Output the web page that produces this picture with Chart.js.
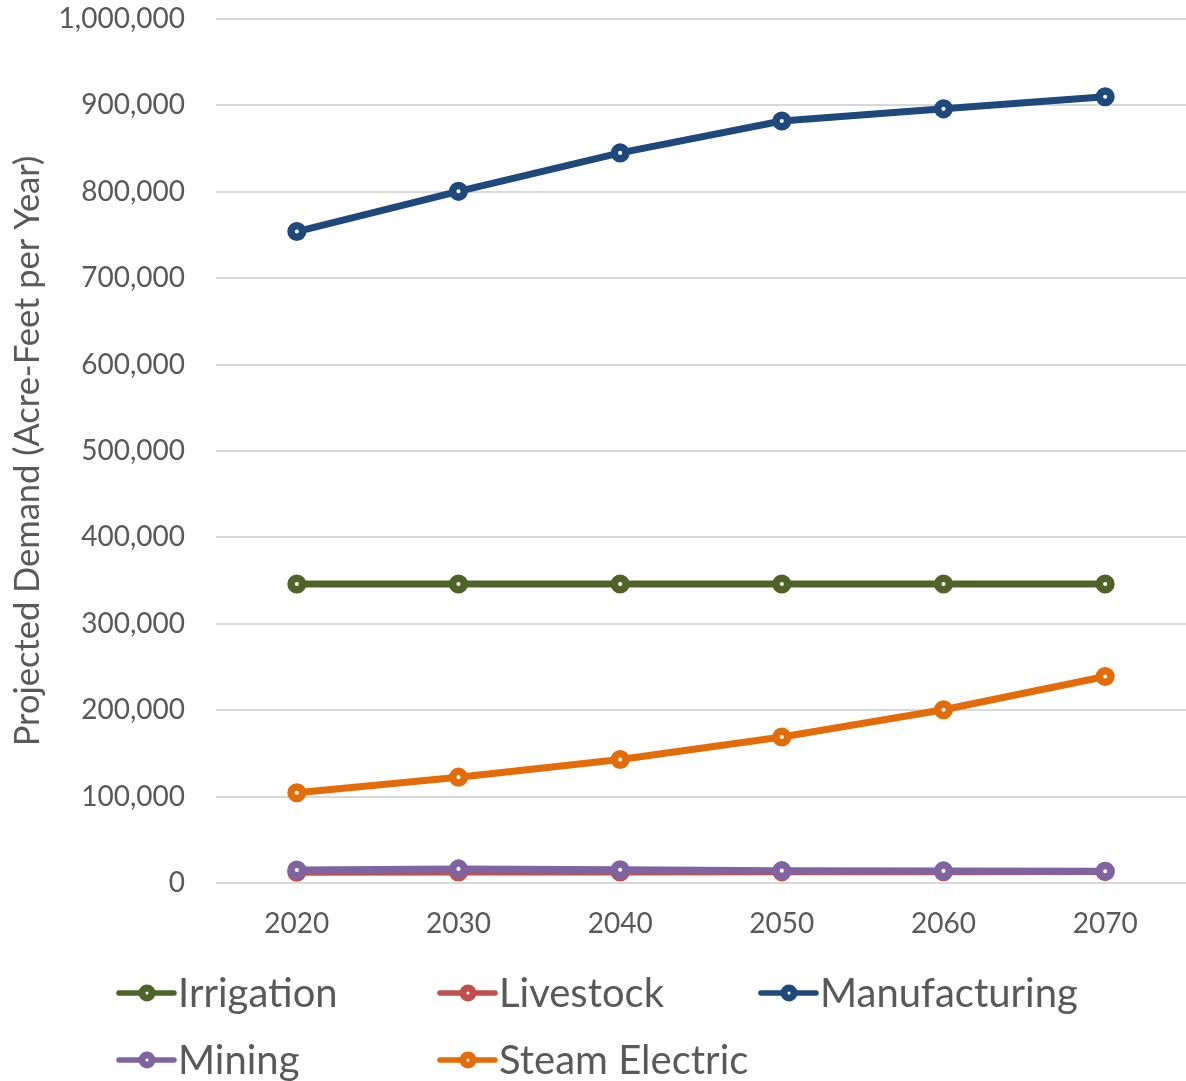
<!DOCTYPE html>
<html>
<head>
<meta charset="utf-8">
<script src="https://cdn.jsdelivr.net/npm/chart.js@4.4.1/dist/chart.umd.min.js"></script>
<style>
  html, body { margin: 0; padding: 0; background: #ffffff; overflow: hidden; }
  #wrap { width: 1186px; height: 1081px; position: relative; }
</style>
</head>
<body>
<div id="wrap"><canvas id="c" width="1186" height="1081"></canvas></div>
<script>
const years = ['2020', '2030', '2040', '2050', '2060', '2070'];
const seriesNames = ['Irrigation', 'Livestock', 'Manufacturing', 'Mining', 'Steam Electric'];
const irrigation = [346000, 346000, 346000, 346000, 346000, 346000];
const livestock = [12500, 12700, 12800, 12900, 13100, 13200];
const manufacturing = [754000, 800500, 845000, 882000, 896000, 910000];
const mining = [15000, 16300, 15400, 14300, 14000, 13600];
const steamElectric = [104500, 122500, 143000, 169000, 200500, 239000];
const seriesColors = ['#4F6228', '#C0504D', '#1F497D', '#8064A2', '#E36C09'];
const yAxisTitle = 'Projected Demand (Acre-Feet per Year)';

const FONT = 'Lato, "Open Sans", sans-serif';
const TEXT = '#595959';

const seriesValues = [irrigation, livestock, manufacturing, mining, steamElectric];

const datasets = seriesNames.map((name, i) => ({
  label: name,
  data: seriesValues[i],
  borderColor: seriesColors[i],
  backgroundColor: '#ffffff',
  pointBackgroundColor: '#ffffff',
  pointBorderColor: seriesColors[i],
  borderWidth: 7,
  pointRadius: 5.8,
  pointHoverRadius: 5.8,
  pointBorderWidth: 7.5,
  tension: 0,
  order: seriesNames.length - i
}));

const legendPlugin = {
  id: 'gridLegend',
  afterDraw(chart) {
    const ctx = chart.ctx;
    const area = chart.chartArea;
    const colW = 321;
    const x0 = area.left - 99;
    const row0 = area.bottom + 110;
    const rowH = 67;
    ctx.save();
    ctx.font = '40px ' + FONT;
    ctx.textBaseline = 'middle';
    ctx.textAlign = 'left';
    seriesNames.forEach((name, i) => {
      const col = i % 3, row = Math.floor(i / 3);
      const x = x0 + col * colW;
      const y = row0 + row * rowH;
      ctx.strokeStyle = seriesColors[i];
      ctx.lineWidth = 5.5;
      ctx.lineCap = 'round';
      ctx.beginPath();
      ctx.moveTo(x + 2, y);
      ctx.lineTo(x + 57, y);
      ctx.stroke();
      ctx.beginPath();
      ctx.arc(x + 30, y, 5, 0, Math.PI * 2);
      ctx.fillStyle = '#ffffff';
      ctx.fill();
      ctx.lineWidth = 7;
      ctx.stroke();
      ctx.fillStyle = TEXT;
      ctx.fillText(name, x + 61, y + 1);
    });
    ctx.restore();
  }
};

new Chart(document.getElementById('c'), {
  type: 'line',
  data: { labels: years, datasets },
  options: {
    responsive: false,
    animation: false,
    devicePixelRatio: 1,
    layout: { autoPadding: false, padding: { top: 19, right: 0, bottom: 140, left: 0 } },
    plugins: {
      legend: { display: false },
      tooltip: { enabled: false }
    },
    scales: {
      x: {
        offset: true,
        grid: { display: false, drawTicks: false },
        border: { display: false },
        ticks: { color: TEXT, font: { family: FONT, size: 28 }, padding: 24 },
        afterFit(scale) {
          scale.height = 58;
          scale.paddingLeft = 0;
          scale.paddingRight = 0;
        }
      },
      y: {
        min: 0,
        max: 1000000,
        grid: { color: '#D9D9D9', lineWidth: 2, drawTicks: false },
        border: { display: false },
        ticks: {
          stepSize: 100000,
          color: TEXT,
          font: { family: FONT, size: 28 },
          padding: 31,
          callback: v => v.toLocaleString('en-US')
        },
        title: {
          display: true,
          text: yAxisTitle,
          color: TEXT,
          font: { family: FONT, size: 34.5 },
          padding: { top: 7, bottom: 12 }
        },
        afterFit(scale) {
          scale.width = 216;
          scale.paddingTop = 0;
          scale.paddingBottom = 0;
        }
      }
    }
  },
  plugins: [legendPlugin]
});
</script>
</body>
</html>
